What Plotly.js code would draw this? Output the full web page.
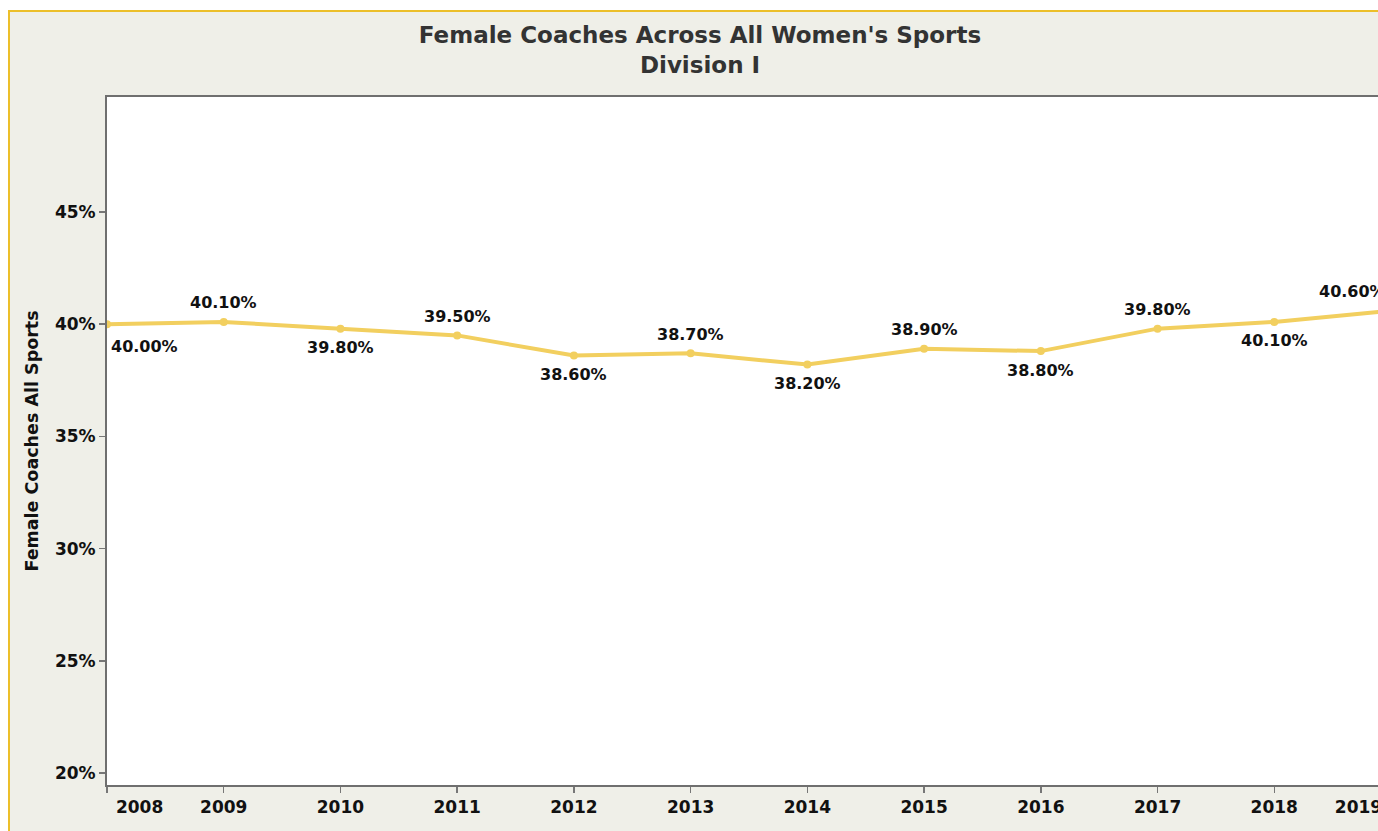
<!DOCTYPE html>
<html><head><meta charset="utf-8">
<script src="https://cdn.plot.ly/plotly-3.0.1.min.js"></script>
<style>
html,body{margin:0;padding:0;background:#ffffff;overflow:hidden;width:1378px;height:831px;}
#wrap{position:absolute;left:8px;top:10px;border-left:2px solid #ecbf2a;border-top:2px solid #ecbf2a;width:1500px;height:819px;overflow:hidden;}
#chart{width:1500px;height:819px;}
</style></head>
<body><div id="wrap"><div id="chart"></div></div>
<script>
const years = [2008, 2009, 2010, 2011, 2012, 2013, 2014, 2015, 2016, 2017, 2018, 2019];
const femaleCoachesPct = [40.0, 40.1, 39.8, 39.5, 38.6, 38.7, 38.2, 38.9, 38.8, 39.8, 40.1, 40.6];
const labelSide = ['below','above','below','above','below','above','below','above','below','above','below','above'];
const yTicks = [20, 25, 30, 35, 40, 45];

const pad = '\u00a0\u00a0\u00a0\u00a0\u00a0\u00a0\u00a0\u00a0\u00a0\u00a0\u00a0';
const xTickText = years.map((y,i)=> i===0 ? pad + y : (i===years.length-1 ? y + pad : String(y)));

const font = 'DejaVu Sans, Verdana, sans-serif';
const trace = {
  x: years, y: femaleCoachesPct,
  type: 'scatter', mode: 'lines+markers',
  line: {color: '#f2cf5f', width: 4},
  marker: {color: '#f2cf5f', size: 8},
  hoverinfo: 'x+y'
};
const annotations = years.map((yr, i) => {
  const last = i === years.length - 1, first = i === 0;
  return {
    x: yr, y: femaleCoachesPct[i], xref: 'x', yref: 'y',
    text: '<b>' + femaleCoachesPct[i].toFixed(2) + '%</b>',
    showarrow: false,
    font: {family: font, size: 16, color: '#111'},
    xanchor: first ? 'left' : (last ? 'right' : 'center'),
    xshift: first ? 2 : (last ? -3 : 0),
    yanchor: 'middle',
    yshift: labelSide[i] === 'above' ? 19 : (first ? -22 : -19)
  };
});
const W = 1500, H = 819;
const layout = {
  width: W, height: H,
  paper_bgcolor: '#efefe8', plot_bgcolor: '#ffffff',
  margin: {l: 97, r: 119, t: 85, b: 46},
  showlegend: false,
  annotations: annotations,
  title: {
    text: "<b>Female Coaches Across All Women's Sports<br>Division I</b>",
    font: {family: font, size: 23, color: '#333333'},
    xref: 'container', x: 690 / W, xanchor: 'center',
    yref: 'container', y: 1 - 31 / H, yanchor: 'top'
  },
  xaxis: {
    range: [2008, 2019],
    tickvals: years, ticktext: xTickText,
    ticks: 'outside', ticklen: 6, tickcolor: '#777', tickwidth: 1.5,
    showline: true, linecolor: '#6f6f6f', linewidth: 2, mirror: true,
    showgrid: false, zeroline: false,
    tickfont: {family: font, size: 17, color: '#111', weight: 'bold'}
  },
  yaxis: {
    range: [19.47, 50.12],
    tickvals: yTicks, ticktext: yTicks.map(v => v + '%'),
    ticks: 'outside', ticklen: 6, tickcolor: '#777', tickwidth: 1.5,
    showline: true, linecolor: '#6f6f6f', linewidth: 2, mirror: true,
    showgrid: false, zeroline: false,
    tickfont: {family: font, size: 17, color: '#111', weight: 'bold'},
    title: {text: '<b>Female Coaches All Sports</b>', font: {family: font, size: 17.5, color: '#111'}, standoff: 12}
  }
};
Plotly.newPlot('chart', [trace], layout, {displayModeBar: false, staticPlot: true});
</script></body></html>
